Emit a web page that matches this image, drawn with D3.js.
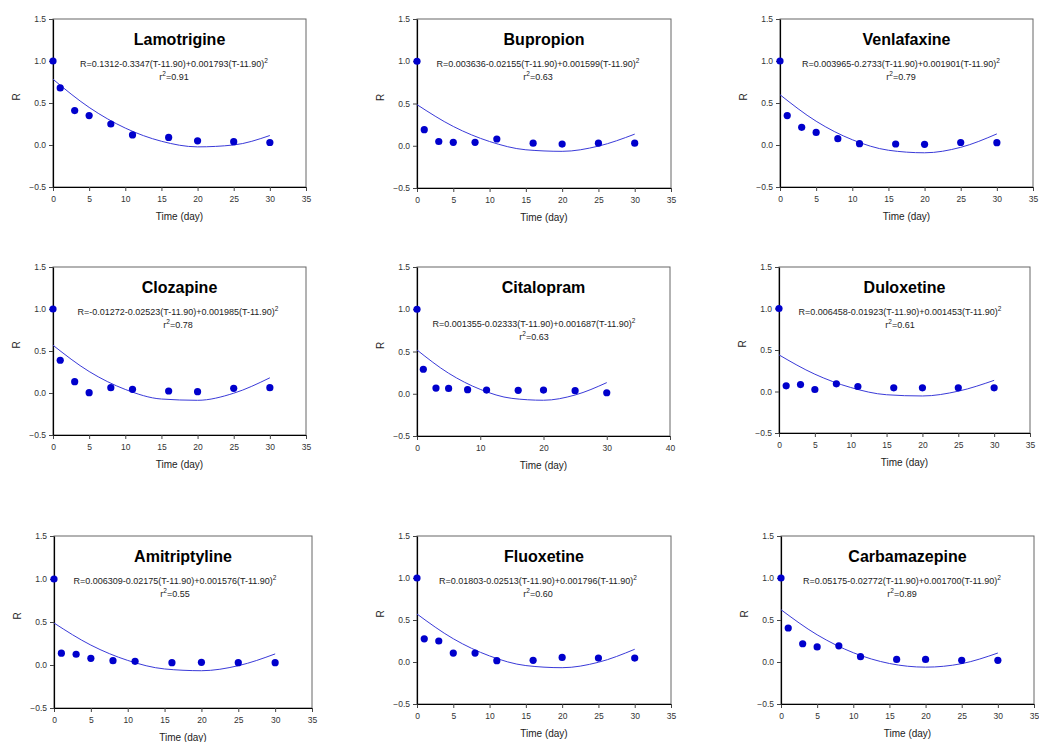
<!DOCTYPE html>
<html>
<head>
<meta charset="utf-8">
<script src="https://cdn.jsdelivr.net/npm/d3@7"></script>
<style>
  html, body { margin: 0; padding: 0; background: #fff; }
  svg { display: block; font-family: "Liberation Sans", Arial, sans-serif; }
</style>
</head>
<body>
<svg id="chart" width="1039" height="742"></svg>
<script>
// ---------- DATA ----------
const drugs = ["Lamotrigine", "Bupropion", "Venlafaxine", "Clozapine", "Citalopram", "Duloxetine", "Amitriptyline", "Fluoxetine", "Carbamazepine"];
const times = [0, 1, 3, 5, 8, 11, 16, 20, 25, 30];
const rLamotrigine   = [1.0, 0.68, 0.41, 0.35, 0.25, 0.12, 0.09, 0.05, 0.04, 0.03];
const rBupropion     = [1.0, 0.19, 0.05, 0.04, 0.04, 0.08, 0.03, 0.02, 0.03, 0.03];
const rVenlafaxine   = [1.0, 0.35, 0.21, 0.15, 0.075, 0.016, 0.012, 0.008, 0.03, 0.028];
const rClozapine     = [1.0, 0.39, 0.135, 0.004, 0.063, 0.044, 0.024, 0.016, 0.056, 0.063];
const rCitalopram    = [1.0, 0.29, 0.067, 0.063, 0.048, 0.044, 0.04, 0.044, 0.036, 0.012];
const rDuloxetine    = [1.0, 0.068, 0.084, 0.024, 0.092, 0.06, 0.044, 0.044, 0.044, 0.044];
const rAmitriptyline = [1.0, 0.137, 0.125, 0.078, 0.05, 0.043, 0.027, 0.031, 0.027, 0.027];
const rFluoxetine    = [1.0, 0.276, 0.25, 0.106, 0.106, 0.016, 0.02, 0.055, 0.047, 0.047];
const rCarbamazepine = [1.0, 0.405, 0.217, 0.18, 0.193, 0.063, 0.031, 0.031, 0.02, 0.02];

// fitted curves, read at T = 0,5,...,30
const fitTimes = [0, 5, 10, 15, 20, 25, 30];
const fLamotrigine   = [0.783, 0.4475, 0.2013, 0.0446, -0.0223, 0.0004, 0.1128];
const fBupropion     = [0.4865, 0.2284, 0.0503, -0.0478, -0.0661, -0.0043, 0.1374];
const fVenlafaxine   = [0.5984, 0.2831, 0.0628, -0.0624, -0.0927, -0.0278, 0.1321];
const fClozapine     = [0.5686, 0.2559, 0.0424, -0.0718, -0.0869, -0.0026, 0.1809];
const fCitalopram    = [0.5179, 0.2427, 0.0518, -0.0547, -0.0769, -0.0147, 0.1318];
const fDuloxetine    = [0.4411, 0.2084, 0.0482, -0.0391, -0.0540, 0.0039, 0.1344];
const fAmitriptyline = [0.4883, 0.2314, 0.0533, -0.0460, -0.0665, -0.0081, 0.1289];
const fFluoxetine    = [0.5713, 0.2769, 0.0722, -0.0426, -0.0678, -0.0030, 0.1515];
const fCarbamazepine = [0.6224, 0.3240, 0.1106, -0.0178, -0.0612, -0.0196, 0.1070];

const equations = [
  "R=0.1312-0.3347(T-11.90)+0.001793(T-11.90)",
  "R=0.003636-0.02155(T-11.90)+0.001599(T-11.90)",
  "R=0.003965-0.2733(T-11.90)+0.001901(T-11.90)",
  "R=-0.01272-0.02523(T-11.90)+0.001985(T-11.90)",
  "R=0.001355-0.02333(T-11.90)+0.001687(T-11.90)",
  "R=0.006458-0.01923(T-11.90)+0.001453(T-11.90)",
  "R=0.006309-0.02175(T-11.90)+0.001576(T-11.90)",
  "R=0.01803-0.02513(T-11.90)+0.001796(T-11.90)",
  "R=0.05175-0.02772(T-11.90)+0.001700(T-11.90)"
];
const rSquared = ["0.91", "0.63", "0.79", "0.78", "0.63", "0.61", "0.55", "0.60", "0.89"];
const xMaxes = [35, 35, 35, 35, 40, 35, 35, 35, 35];
const yTicks = [-0.5, 0.0, 0.5, 1.0, 1.5];
const xTitle = "Time (day)";
const yTitle = "R";

const rValues = [rLamotrigine, rBupropion, rVenlafaxine, rClozapine, rCitalopram, rDuloxetine, rAmitriptyline, rFluoxetine, rCarbamazepine];
const fitValues = [fLamotrigine, fBupropion, fVenlafaxine, fClozapine, fCitalopram, fDuloxetine, fAmitriptyline, fFluoxetine, fCarbamazepine];

// ---------- LAYOUT ----------
const layout = [
  {l: 53,  r: 306,  t: 19,  b: 187},
  {l: 417, r: 671,  t: 19,  b: 188},
  {l: 780, r: 1033, t: 19,  b: 187},
  {l: 53,  r: 306,  t: 267, b: 435, eqDx: 125},
  {l: 417, r: 670,  t: 267, b: 436, eqDy: 60, eqDx: 117},
  {l: 779, r: 1030, t: 267, b: 433},
  {l: 54,  r: 312,  t: 536, b: 708},
  {l: 417, r: 671,  t: 536, b: 704},
  {l: 781, r: 1034, t: 536, b: 704}
];

const svg = d3.select("#chart");
const markerColor = "#0000cc";
const curveColor = "#3a3ad8";
const textColor = "#222";

drugs.forEach((name, i) => {
  const L = layout[i];
  const x = d3.scaleLinear().domain([0, xMaxes[i]]).range([L.l, L.r]);
  const y = d3.scaleLinear().domain([-0.5, 1.5]).range([L.b, L.t]);
  const g = svg.append("g");

  // frame (top/right)
  g.append("rect").attr("x", L.l).attr("y", L.t)
    .attr("width", L.r - L.l).attr("height", L.b - L.t)
    .attr("fill", "none").attr("stroke", "#666").attr("stroke-width", 1);

  const xTickVals = d3.range(0, xMaxes[i] + 0.001, xMaxes[i] === 40 ? 10 : 5);
  const xAxis = g.append("g").attr("transform", `translate(0,${L.b})`)
    .call(d3.axisBottom(x).tickValues(xTickVals).tickFormat(d3.format("d")).tickSize(4).tickPadding(5).tickSizeOuter(0));
  const yAxis = g.append("g").attr("transform", `translate(${L.l},0)`)
    .call(d3.axisLeft(y).tickValues(yTicks).tickFormat(d3.format(".1f")).tickSize(4).tickPadding(3).tickSizeOuter(0));
  [xAxis, yAxis].forEach(a => {
    a.select(".domain").attr("stroke", "#000").attr("stroke-width", 1.2);
    a.selectAll(".tick line").attr("stroke", "#444");
    a.selectAll(".tick text").attr("fill", "#333").style("font-size", "8.5px").style("font-family", "'Liberation Sans', Arial, sans-serif");
  });

  // axis titles
  g.append("text").attr("x", (L.l + L.r) / 2).attr("y", L.b + 33)
    .attr("text-anchor", "middle").attr("fill", textColor)
    .style("font-size", "10px").text(xTitle);
  const ry = (L.t + L.b) / 2 - 6;
  g.append("text").attr("transform", `translate(${L.l - 33},${ry}) rotate(-90)`)
    .attr("text-anchor", "middle").attr("fill", textColor)
    .style("font-size", "10px").text(yTitle);

  // title
  g.append("text").attr("x", (L.l + L.r) / 2).attr("y", L.t + 26)
    .attr("text-anchor", "middle").attr("fill", "#000")
    .style("font-size", "16px").style("font-weight", "bold").text(name);

  // equation
  const eqX = L.l + (L.eqDx || 121);
  const eqY = L.t + (L.eqDy || 48);
  const eq = g.append("text").attr("x", eqX).attr("y", eqY)
    .attr("text-anchor", "middle").attr("fill", textColor).style("font-size", "9px");
  eq.append("tspan").text(equations[i]);
  eq.append("tspan").attr("dy", -4).style("font-size", "6.5px").text("2");
  const r2 = g.append("text").attr("x", eqX).attr("y", eqY + 13)
    .attr("text-anchor", "middle").attr("fill", textColor).style("font-size", "9px");
  r2.append("tspan").text("r");
  r2.append("tspan").attr("dy", -4).style("font-size", "6.5px").text("2");
  r2.append("tspan").attr("dy", 4).text("=" + rSquared[i]);

  // fitted curve
  const fitPts = fitTimes.map((t, k) => [t, fitValues[i][k]]);
  g.append("path").datum(fitPts)
    .attr("fill", "none").attr("stroke", curveColor).attr("stroke-width", 1)
    .attr("d", d3.line().x(d => x(d[0])).y(d => y(d[1])).curve(d3.curveMonotoneX));

  // points
  g.selectAll("circle.pt").data(times.map((t, k) => [t, rValues[i][k]]))
    .enter().append("circle").attr("class", "pt")
    .attr("cx", d => x(d[0])).attr("cy", d => y(d[1])).attr("r", 3.6)
    .attr("fill", markerColor);
});
</script>
</body>
</html>
